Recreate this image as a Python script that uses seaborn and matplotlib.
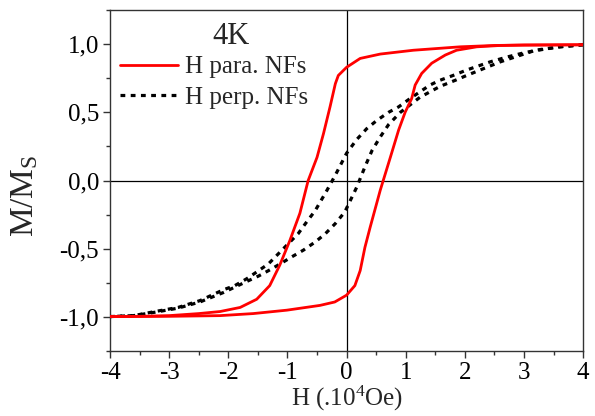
import pandas as pd
import matplotlib
matplotlib.use("Agg")
import matplotlib.pyplot as plt
import seaborn as sns
from matplotlib.ticker import MultipleLocator, FuncFormatter

# --- data (H in 10^4 Oe, M/Ms) ---
para_down_h = [4, 3, 2.5, 1.92, 1.13, 0.57, 0.23, 0.0, -0.07, -0.14, -0.19, -0.28, -0.39,
               -0.50, -0.65, -0.79, -0.96, -1.13, -1.30, -1.52, -1.80, -2.14, -2.5, -3, -3.5, -4]
para_down_m = [0.995, 0.993, 0.99, 0.98, 0.955, 0.927, 0.895, 0.83, 0.80, 0.77, 0.71, 0.54, 0.345,
               0.17, 0.0, -0.24, -0.44, -0.62, -0.77, -0.87, -0.93, -0.96, -0.975, -0.99, -0.995, -0.997]

para_up_h = [-4, -3, -2.14, -1.58, -1.01, -0.45, -0.2, 0.0, 0.14, 0.23, 0.31, 0.40, 0.57,
             0.74, 0.88, 0.99, 1.10, 1.16, 1.27, 1.44, 1.67, 1.86, 2.2, 2.6, 3, 4]
para_up_m = [-0.997, -0.995, -0.99, -0.975, -0.95, -0.915, -0.89, -0.84, -0.77, -0.66, -0.49, -0.34, -0.07,
             0.17, 0.37, 0.50, 0.60, 0.70, 0.785, 0.86, 0.92, 0.955, 0.98, 0.99, 0.993, 0.995]

perp_down_h = [4, 3.61, 3.27, 2.99, 2.71, 2.43, 2.03, 1.80, 1.58, 1.41, 1.24, 1.07, 0.88, 0.71, 0.51,
               0.34, 0.17, 0.0, -0.19, -0.33, -0.53, -0.67, -0.82, -0.98, -1.15, -1.32, -1.52,
               -1.69, -1.89, -2.08, -2.48, -2.85, -3.24, -3.6, -4]
perp_down_m = [0.995, 0.98, 0.96, 0.935, 0.905, 0.87, 0.81, 0.77, 0.735, 0.70, 0.65, 0.60, 0.54, 0.50, 0.44,
               0.38, 0.30, 0.20, 0.04, -0.07, -0.22, -0.30, -0.39, -0.46, -0.535, -0.61, -0.67,
               -0.72, -0.77, -0.80, -0.88, -0.93, -0.96, -0.99, -0.997]

perp_up_h = [-4, -3.6, -3.24, -2.85, -2.48, -2.08, -1.69, -1.49, -1.32, -1.12, -0.93, -0.73, -0.53,
             -0.36, -0.19, -0.03, 0.17, 0.31, 0.43, 0.57, 0.71, 0.91, 1.24, 1.58, 1.84, 2.03,
             2.6, 3.16, 3.6, 4]
perp_up_m = [-0.997, -0.99, -0.965, -0.935, -0.89, -0.82, -0.74, -0.70, -0.66, -0.61, -0.56, -0.51, -0.45,
             -0.39, -0.315, -0.23, -0.05, 0.10, 0.22, 0.32, 0.41, 0.50, 0.61, 0.69, 0.735, 0.77,
             0.87, 0.95, 0.98, 0.995]

x_ticks = [-4, -3, -2, -1, 0, 1, 2, 3, 4]
y_ticks = [-1.0, -0.5, 0.0, 0.5, 1.0]

# --- style ---
sns.set_style("ticks")
plt.rcParams['font.family'] = ['Liberation Serif', 'DejaVu Serif']
plt.rcParams['mathtext.default'] = 'regular'

fig = plt.figure(figsize=(5.95, 4.16), dpi=100)
ax = fig.add_axes([0.185, 0.156, 0.795, 0.820])

# zero lines
ax.axhline(0, color='black', lw=0.9, zorder=1)
ax.axvline(0, color='black', lw=0.9, zorder=1)

red_kw = dict(color='red', lw=2.0, sort=False, estimator=None, ax=ax, zorder=3)
dot_kw = dict(color='black', lw=2.3, sort=False, estimator=None, ax=ax,
              linestyle=(0, (1.5, 1.7)), zorder=2)

sns.lineplot(x=para_down_h, y=para_down_m, label='H para. NFs', **red_kw)
sns.lineplot(x=para_up_h, y=para_up_m, **red_kw)
sns.lineplot(x=perp_down_h, y=perp_down_m, label='H perp. NFs', **dot_kw)
sns.lineplot(x=perp_up_h, y=perp_up_m, **dot_kw)

ax.set_xlim(-4, 4)
ax.set_ylim(-1.25, 1.25)
ax.set_xticks(x_ticks)
ax.set_yticks(y_ticks)
ax.xaxis.set_minor_locator(MultipleLocator(0.5))
ax.yaxis.set_minor_locator(MultipleLocator(0.25))
ax.xaxis.set_major_formatter(FuncFormatter(lambda v, p: f"{v:.0f}"))
ax.yaxis.set_major_formatter(FuncFormatter(lambda v, p: f"{v:.1f}".replace('.', ',')))
ax.tick_params(which='major', direction='out', length=5, width=1, labelsize=18, colors='#333333',
               labelcolor='black', top=False, right=False, pad=3)
ax.tick_params(which='minor', direction='out', length=3, width=1, colors='#333333',
               top=False, right=False)
for s in ax.spines.values():
    s.set_color('#333333')
    s.set_linewidth(1.0)

ax.set_xlabel('H (.10$^4$Oe)', fontsize=18)
ax.xaxis.set_label_coords(0.5, -0.096)
ax.set_ylabel('M/M$_S$', fontsize=24)
ax.yaxis.set_label_coords(-0.148, 0.455)

ax.text(0.255, 0.922, '4K', transform=ax.transAxes, fontsize=22, ha='center', va='center')
leg = ax.legend(loc='upper left', bbox_to_anchor=(0.0, 0.895), frameon=False, fontsize=18,
                handlelength=2.3, handletextpad=0.28, labelspacing=0.32, borderaxespad=0.0)

fig.savefig('out.png', dpi=100)
